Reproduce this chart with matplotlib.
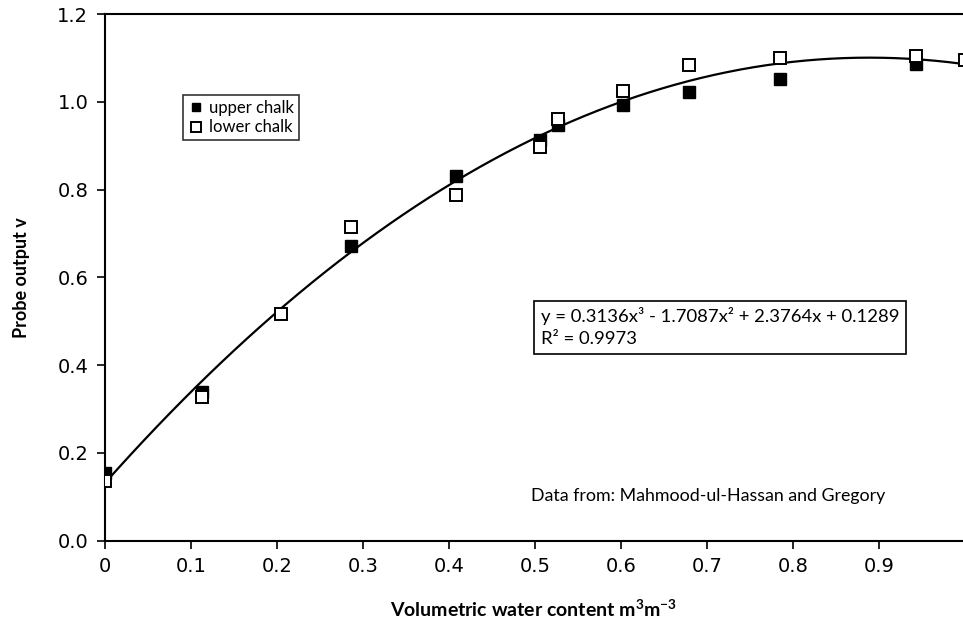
import numpy as np
import matplotlib
matplotlib.use("Agg")
import matplotlib.pyplot as plt

plt.rcParams['font.family'] = ['Lato', 'DejaVu Sans']
plt.rcParams['mathtext.fontset'] = 'custom'
plt.rcParams['mathtext.rm'] = 'Lato'
plt.rcParams['mathtext.bf'] = 'Lato:bold'

# data
x_upper = [0.0, 0.113, 0.286, 0.408, 0.506, 0.527, 0.603, 0.679, 0.785, 0.943]
y_upper = [0.154, 0.340, 0.672, 0.830, 0.912, 0.947, 0.992, 1.023, 1.052, 1.085]
x_lower = [0.0, 0.113, 0.205, 0.286, 0.408, 0.506, 0.527, 0.603, 0.679, 0.785, 0.943, 1.0]
y_lower = [0.137, 0.328, 0.516, 0.715, 0.788, 0.898, 0.961, 1.025, 1.083, 1.100, 1.105, 1.095]

x_ticks = [0, 0.1, 0.2, 0.3, 0.4, 0.5, 0.6, 0.7, 0.8, 0.9]
x_tick_labels = ["0", "0.1", "0.2", "0.3", "0.4", "0.5", "0.6", "0.7", "0.8", "0.9"]
y_ticks = [0.0, 0.2, 0.4, 0.6, 0.8, 1.0, 1.2]
y_tick_labels = ["0.0", "0.2", "0.4", "0.6", "0.8", "1.0", "1.2"]

eq_text = "y = 0.3136x³ - 1.7087x² + 2.3764x + 0.1289\nR² = 0.9973"
source_text = "Data from: Mahmood-ul-Hassan and Gregory"

fig = plt.figure(figsize=(9.63, 6.23), dpi=100)
ax = fig.add_axes([0.109, 0.132, 0.891, 0.8455])

# cubic trendline fitted on both series
xs = np.array(x_upper + x_lower)
ys = np.array(y_upper + y_lower)
coef = np.polyfit(xs, ys, 3)
xx = np.linspace(0, 1.0, 200)
ax.plot(xx, np.polyval(coef, xx), color='black', lw=1.6, zorder=2)

ax.plot(x_upper, y_upper, 's', color='black', markersize=8, ls='none',
        label='upper chalk', zorder=3)
ax.plot(x_lower, y_lower, 's', markerfacecolor='white', markeredgecolor='black',
        markeredgewidth=1.4, markersize=8.5, ls='none', label='lower chalk', zorder=4)

ax.set_xlim(0, 0.998)
ax.set_ylim(0, 1.2)
ax.set_xticks(x_ticks)
ax.set_xticklabels(x_tick_labels, family='DejaVu Sans', fontsize=14)
ax.set_yticks(y_ticks)
ax.set_yticklabels(y_tick_labels, family='DejaVu Sans', fontsize=14)
ax.tick_params(axis='both', direction='out', length=6, width=1.2,
               colors='black', pad=6)
for s in ['left', 'bottom', 'top']:
    ax.spines[s].set_linewidth(1.5)
ax.spines['right'].set_visible(False)

ax.set_xlabel(r"Volumetric water content m$\mathbf{^3}$m$\mathbf{^{-3}}$",
              fontsize=14, fontweight='bold', labelpad=16)
ax.set_ylabel("Probe output v", fontsize=13, fontweight='bold', labelpad=20)

leg = ax.legend(loc='upper left', bbox_to_anchor=(0.081, 0.862), fontsize=12,
                frameon=True, fancybox=False, handletextpad=0.3,
                borderpad=0.3, handlelength=1.0, labelspacing=0.2, markerscale=0.8)
leg.get_frame().set_edgecolor('black')
leg.get_frame().set_linewidth(1.2)

ax.text(0.508, 0.443, eq_text, transform=ax.transAxes, fontsize=13.3,
        va='top', ha='left', linespacing=1.45,
        bbox=dict(boxstyle='square,pad=0.35', fc='white', ec='black', lw=1.2))
ax.text(0.497, 0.085, source_text, transform=ax.transAxes, fontsize=12.8,
        va='center', ha='left')

fig.savefig("out.png", dpi=100)
